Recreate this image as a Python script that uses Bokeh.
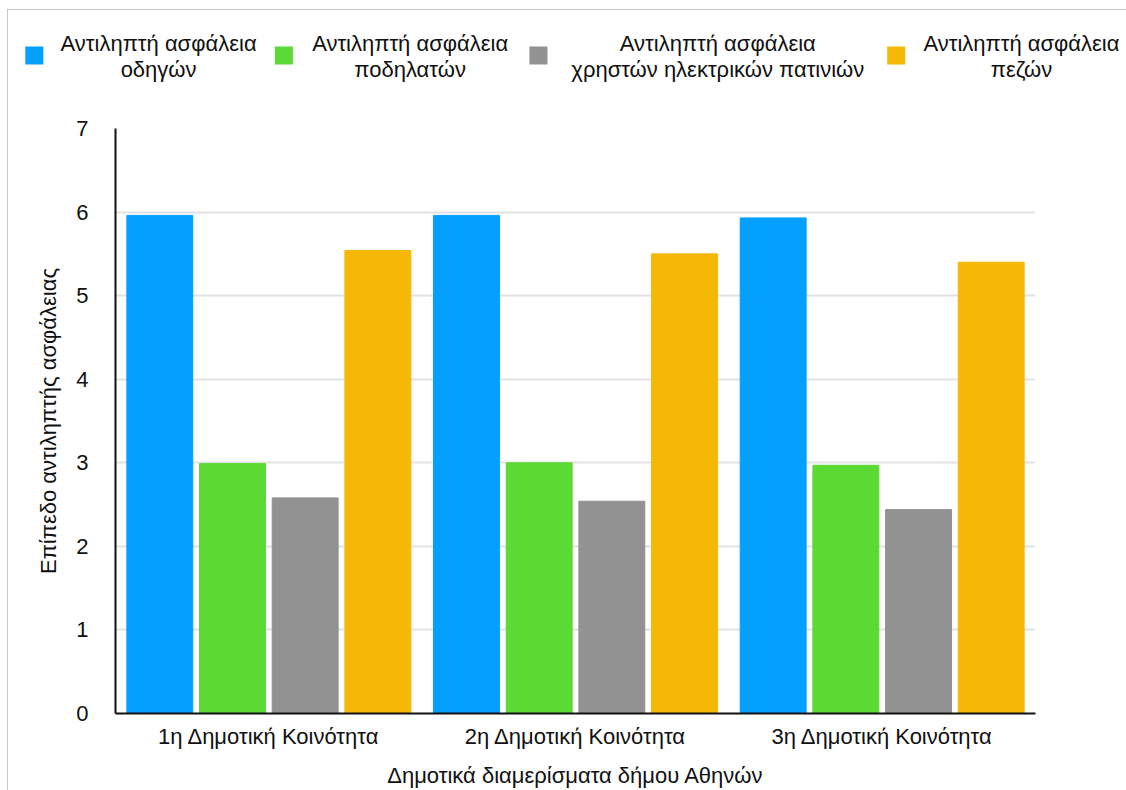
from bokeh.plotting import figure
from bokeh.layouts import column
from bokeh.models import FactorRange, ColumnDataSource, FixedTicker, Range1d
from bokeh.core.properties import value
from bokeh.transform import dodge
from bokeh.embed import file_html
from bokeh.resources import INLINE

groups = ["1η Δημοτική Κοινότητα", "2η Δημοτική Κοινότητα", "3η Δημοτική Κοινότητα"]
series_labels = [
    "Αντιληπτή ασφάλεια\nοδηγών",
    "Αντιληπτή ασφάλεια\nποδηλατών",
    "Αντιληπτή ασφάλεια\nχρηστών ηλεκτρικών πατινιών",
    "Αντιληπτή ασφάλεια\nπεζών",
]
drivers = [5.96, 5.96, 5.93]
cyclists = [2.99, 3.00, 2.97]
scooters = [2.58, 2.54, 2.44]
pedestrians = [5.54, 5.50, 5.40]
y_ticks = [0, 1, 2, 3, 4, 5, 6, 7]
x_title = "Δημοτικά διαμερίσματα δήμου Αθηνών"
y_title = "Επίπεδο αντιληπτής ασφάλειας"

colors = ["#04a0ff", "#5bd934", "#929292", "#f6b807"]
FONT = "Liberation Sans"
FS = "22px"
TXT = "#111111"

MB_LEFT, MB_RIGHT = 107, 92
FRAME_L, FRAME_R = 116, 1034   # page pixels of the plotting frame (shared by both figures)

# ---------------- legend strip (pixel-scaled figure, frame aligned with the chart) ----------------
LEG_H = 98
leg = figure(width=1119, height=LEG_H, x_range=Range1d(FRAME_L, FRAME_R), y_range=Range1d(9 + LEG_H, 9),
             output_backend="svg", toolbar_location=None,
             min_border_left=MB_LEFT, min_border_right=MB_RIGHT, min_border_top=0, min_border_bottom=0)
leg.axis.visible = False
leg.grid.visible = False
leg.outline_line_color = None
leg_src = ColumnDataSource(dict(
    sx=[35, 284, 538, 895], sy=[54, 54, 54, 54],
    tx=[159, 410, 717, 1020], ty=[55, 55, 55, 55],
    label=series_labels, color=colors,
))
leg.rect(x="sx", y="sy", width=18, height=18, source=leg_src, fill_color="color", line_color=None,
         level="overlay")
leg.text(x="tx", y="ty", text="label", source=leg_src, text_align="center", text_baseline="middle",
         text_font=value(FONT), text_font_size=FS, text_color=TXT, text_line_height=1.03,
         level="overlay")

# ---------------- main chart ----------------
source = ColumnDataSource(dict(x=groups, s0=drivers, s1=cyclists, s2=scooters, s3=pedestrians))

p = figure(
    x_range=FactorRange(factors=groups, range_padding=0),
    y_range=Range1d(0, 7),
    width=1119, height=790 - 9 - LEG_H,
    output_backend="svg", toolbar_location=None,
    min_border_left=MB_LEFT, min_border_right=MB_RIGHT, min_border_top=127 - 9 - LEG_H, min_border_bottom=78,
)
p.outline_line_color = None

step = 0.237
offsets = [-1.5 * step, -0.5 * step, 0.5 * step, 1.5 * step]
for i, col in enumerate(["s0", "s1", "s2", "s3"]):
    p.vbar(x=dodge("x", offsets[i], range=p.x_range), top=col, width=0.215,
           source=source, fill_color=colors[i], line_color=colors[i], line_width=1)

p.yaxis.ticker = FixedTicker(ticks=y_ticks)
for ax in (p.xaxis[0], p.yaxis[0]):
    ax.axis_line_color = "#111111"
    ax.axis_line_width = 2
    ax.major_tick_line_color = None
    ax.minor_tick_line_color = None
    ax.major_label_text_font = FONT
    ax.major_label_text_font_size = FS
    ax.major_label_text_color = TXT
    ax.axis_label_text_font = FONT
    ax.axis_label_text_font_size = FS
    ax.axis_label_text_font_style = "normal"
    ax.axis_label_text_color = TXT
p.yaxis.major_label_standoff = 21
p.xaxis.major_label_standoff = 4
p.xaxis.axis_label = x_title
p.yaxis.axis_label = y_title
p.xaxis.axis_label_standoff = 11
p.yaxis.axis_label_standoff = 12
p.xgrid.grid_line_color = None
p.ygrid.grid_line_color = "#e2e2e2"
p.ygrid.grid_line_width = 2

page = column(leg, p, spacing=0)
page.margin = (9, 0, 0, 7)
page.styles = {"border-top": "1px solid #c8c8c8", "border-left": "1px solid #c8c8c8"}

open("out.html", "w").write(file_html(page, INLINE))
